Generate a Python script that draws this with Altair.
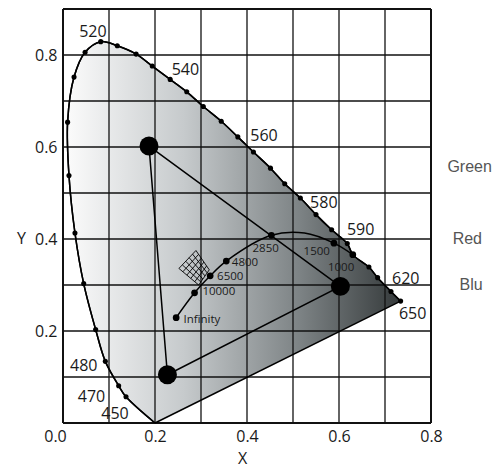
import altair as alt
import pandas as pd

# ---- spectral locus (blue end -> red end) ----
locus_x = [0.200, 0.137, 0.121, 0.092, 0.071, 0.045, 0.026, 0.013, 0.010, 0.024, 0.048,
           0.082, 0.118, 0.159, 0.194, 0.233, 0.269, 0.305, 0.344, 0.380, 0.414, 0.451,
           0.482, 0.516, 0.550, 0.584, 0.618, 0.630, 0.665, 0.684, 0.713, 0.734]
locus_y = [0.000, 0.057, 0.081, 0.134, 0.203, 0.303, 0.413, 0.538, 0.654, 0.752, 0.806,
           0.829, 0.820, 0.802, 0.776, 0.747, 0.720, 0.688, 0.656, 0.622, 0.589, 0.554,
           0.520, 0.489, 0.453, 0.420, 0.390, 0.366, 0.339, 0.316, 0.286, 0.265]
locus_dot = [0] + [1] * 31

# wavelength labels
wl_text = ["520", "540", "560", "580", "590", "620", "650", "480", "470", "450"]
wl_x = [0.065, 0.266, 0.437, 0.567, 0.647, 0.745, 0.760, 0.045, 0.062, 0.113]
wl_y = [0.850, 0.768, 0.625, 0.479, 0.420, 0.313, 0.237, 0.124, 0.056, 0.019]

# ---- Planckian locus ----
planck_x = [0.246, 0.286, 0.320, 0.355, 0.453, 0.525, 0.589, 0.630]
planck_y = [0.229, 0.283, 0.320, 0.352, 0.408, 0.413, 0.391, 0.366]
planck_dot = [1, 1, 1, 1, 1, 0, 1, 1]

pl_text = ["Infinity", "10000", "6500", "4800", "2850", "1500", "1000"]
pl_x = [0.262, 0.303, 0.335, 0.367, 0.412, 0.523, 0.576]
pl_y = [0.225, 0.284, 0.317, 0.347, 0.379, 0.372, 0.338]

# ---- RGB gamut triangle ----
tri_name = ["Green", "Red", "Blu"]
tri_x = [0.187, 0.603, 0.227]
tri_y = [0.602, 0.297, 0.105]

side_text = ["Green", "Red", "Blu"]
side_x = [0.884, 0.879, 0.887]
side_y = [0.557, 0.401, 0.299]

# ---- small mesh near 6500 (corners: left, top, right, bottom) ----
mesh_cx = [0.252, 0.289, 0.318, 0.295]
mesh_cy = [0.336, 0.375, 0.333, 0.300]
mesh_div = 5

# grid values
grid_x = [round(i * 0.1, 1) for i in range(9)]
grid_y = [round(i * 0.1, 1) for i in range(10)]

# ---------------- tables ----------------
locus_df = pd.DataFrame({"x": locus_x, "y": locus_y, "dot": locus_dot,
                         "i": list(range(len(locus_x)))})
purple_df = pd.DataFrame({"x": [locus_x[0]], "y": [locus_y[0]],
                          "x2": [locus_x[-1]], "y2": [locus_y[-1]]})
wl_df = pd.DataFrame({"t": wl_text, "x": wl_x, "y": wl_y})
planck_df = pd.DataFrame({"x": planck_x, "y": planck_y, "dot": planck_dot,
                          "i": list(range(len(planck_x)))})
pl_df = pd.DataFrame({"t": pl_text, "x": pl_x, "y": pl_y})
tri_df = pd.DataFrame({"x": tri_x + [tri_x[0]], "y": tri_y + [tri_y[0]], "i": [0, 1, 2, 3]})
tri_pts = pd.DataFrame({"x": tri_x, "y": tri_y})
side_df = pd.DataFrame({"t": side_text, "x": side_x, "y": side_y})
gx_df = pd.DataFrame({"v": grid_x,
                      "w": [2.0 if v in (grid_x[0], grid_x[-1]) else 1.3 for v in grid_x]})
gy_df = pd.DataFrame({"v": grid_y,
                      "w": [2.0 if v in (grid_y[0], grid_y[-1]) else 1.3 for v in grid_y]})

L = (mesh_cx[0], mesh_cy[0]); T = (mesh_cx[1], mesh_cy[1])
R = (mesh_cx[2], mesh_cy[2]); B = (mesh_cx[3], mesh_cy[3])
def lerp(p, q, t):
    return (p[0] + (q[0] - p[0]) * t, p[1] + (q[1] - p[1]) * t)
segs = []
for k in range(mesh_div + 1):
    t = k / mesh_div
    a, b = lerp(L, T, t), lerp(B, R, t)
    segs.append((a[0], a[1], b[0], b[1]))
    a, b = lerp(L, B, t), lerp(T, R, t)
    segs.append((a[0], a[1], b[0], b[1]))
mesh_df = pd.DataFrame(segs, columns=["x", "y", "x2", "y2"])

# ---------------- chart ----------------
FONT = "Open Sans"
xs = alt.Scale(domain=[0, 0.8], nice=False, zero=False)
ys = alt.Scale(domain=[0, 0.9], nice=False, zero=False)

x_axis = alt.Axis(values=grid_x, grid=False, ticks=False, domain=False,
                  labelExpr="(round(datum.value*10) % 2 == 0) ? format(datum.value, '.1f') : ''",
                  labelFont=FONT, labelFontSize=16, labelColor="#1a1a1a", labelPadding=5,
                  labelFlush=False,
                  labelOffset={"condition": {"test": "datum.value == 0", "value": -8}, "value": 0},
                  title="X", titleFont=FONT, titleFontSize=16, titleFontWeight="normal",
                  titleColor="#1a1a1a", titleX=179, titleY=35, titleBaseline="middle")
y_axis = alt.Axis(values=grid_y, grid=False, ticks=False, domain=False,
                  labelExpr="(round(datum.value*10) % 2 == 0 && datum.value > 0 && datum.value < 0.85) ? format(datum.value, '.1f') : ''",
                  labelFont=FONT, labelFontSize=16, labelColor="#1a1a1a", labelPadding=6,
                  labelFlush=False,
                  title="Y", titleFont=FONT, titleFontSize=16, titleFontWeight="normal",
                  titleColor="#1a1a1a", titleAngle=0, titleX=-42, titleY=229,
                  titleAlign="center", titleBaseline="middle")

grad = alt.LinearGradient(gradient="linear",
                          stops=[alt.GradientStop(color="#fbfbfb", offset=0),
                                 alt.GradientStop(color="#c6cacc", offset=0.35),
                                 alt.GradientStop(color="#7c8284", offset=0.7),
                                 alt.GradientStop(color="#353a3b", offset=1)],
                          x1=0, x2=1, y1=0, y2=0)

fill = alt.Chart(locus_df).mark_line(fill=grad, color="black", strokeWidth=1.5,
                                     interpolate="catmull-rom").encode(
    x=alt.X("x:Q", scale=xs, axis=x_axis),
    y=alt.Y("y:Q", scale=ys, axis=y_axis),
    order="i:Q")

vgrid = alt.Chart(gx_df).mark_rule(color="#111111").encode(
    x="v:Q", strokeWidth=alt.StrokeWidth("w:Q", scale=None))
hgrid = alt.Chart(gy_df).mark_rule(color="#111111").encode(
    y="v:Q", strokeWidth=alt.StrokeWidth("w:Q", scale=None))

purple = alt.Chart(purple_df).mark_rule(color="black", strokeWidth=1.5).encode(
    x="x:Q", y="y:Q", x2="x2:Q", y2="y2:Q")

locus_line = alt.Chart(locus_df).mark_line(color="black", strokeWidth=1.5,
                                           interpolate="catmull-rom").encode(
    x="x:Q", y="y:Q", order="i:Q")

locus_dots = alt.Chart(locus_df).transform_filter("datum.dot == 1").mark_circle(
    size=26, color="black", opacity=1).encode(x="x:Q", y="y:Q")

tri_line = alt.Chart(tri_df).mark_line(color="black", strokeWidth=1.5).encode(
    x="x:Q", y="y:Q", order="i:Q")
tri_dots = alt.Chart(tri_pts).mark_circle(size=360, color="black", opacity=1).encode(
    x="x:Q", y="y:Q")

planck_line = alt.Chart(planck_df).mark_line(color="black", strokeWidth=1.5,
                                             interpolate="catmull-rom").encode(
    x="x:Q", y="y:Q", order="i:Q")
planck_dots = alt.Chart(planck_df).transform_filter("datum.dot == 1").mark_circle(
    size=45, color="black", opacity=1).encode(x="x:Q", y="y:Q")

mesh = alt.Chart(mesh_df).mark_rule(color="black", strokeWidth=0.9).encode(
    x="x:Q", y="y:Q", x2="x2:Q", y2="y2:Q")

wl_labels = alt.Chart(wl_df).mark_text(font=FONT, fontSize=16, color="#1a1a1a",
                                       align="center", baseline="middle").encode(
    x="x:Q", y="y:Q", text="t:N")
pl_labels = alt.Chart(pl_df).mark_text(font=FONT, fontSize=11.5, color="#1a1a1a",
                                       align="left", baseline="middle").encode(
    x="x:Q", y="y:Q", text="t:N")
side_labels = alt.Chart(side_df).mark_text(font="Liberation Sans", fontSize=16,
                                           color="#555555", align="center",
                                           baseline="middle").encode(
    x="x:Q", y="y:Q", text="t:N")

chart = alt.layer(fill, vgrid, hgrid, locus_line, purple, locus_dots, tri_line, tri_dots,
                  planck_line, planck_dots, mesh, wl_labels, pl_labels,
                  side_labels).properties(
    width=368, height=414,
    autosize=alt.AutoSizeParams(type="none"),
    padding={"left": 55, "top": 1, "right": 64, "bottom": 44},
).configure_view(stroke=None)

chart.save("out.html", embed_options={"renderer": "svg", "actions": False})
